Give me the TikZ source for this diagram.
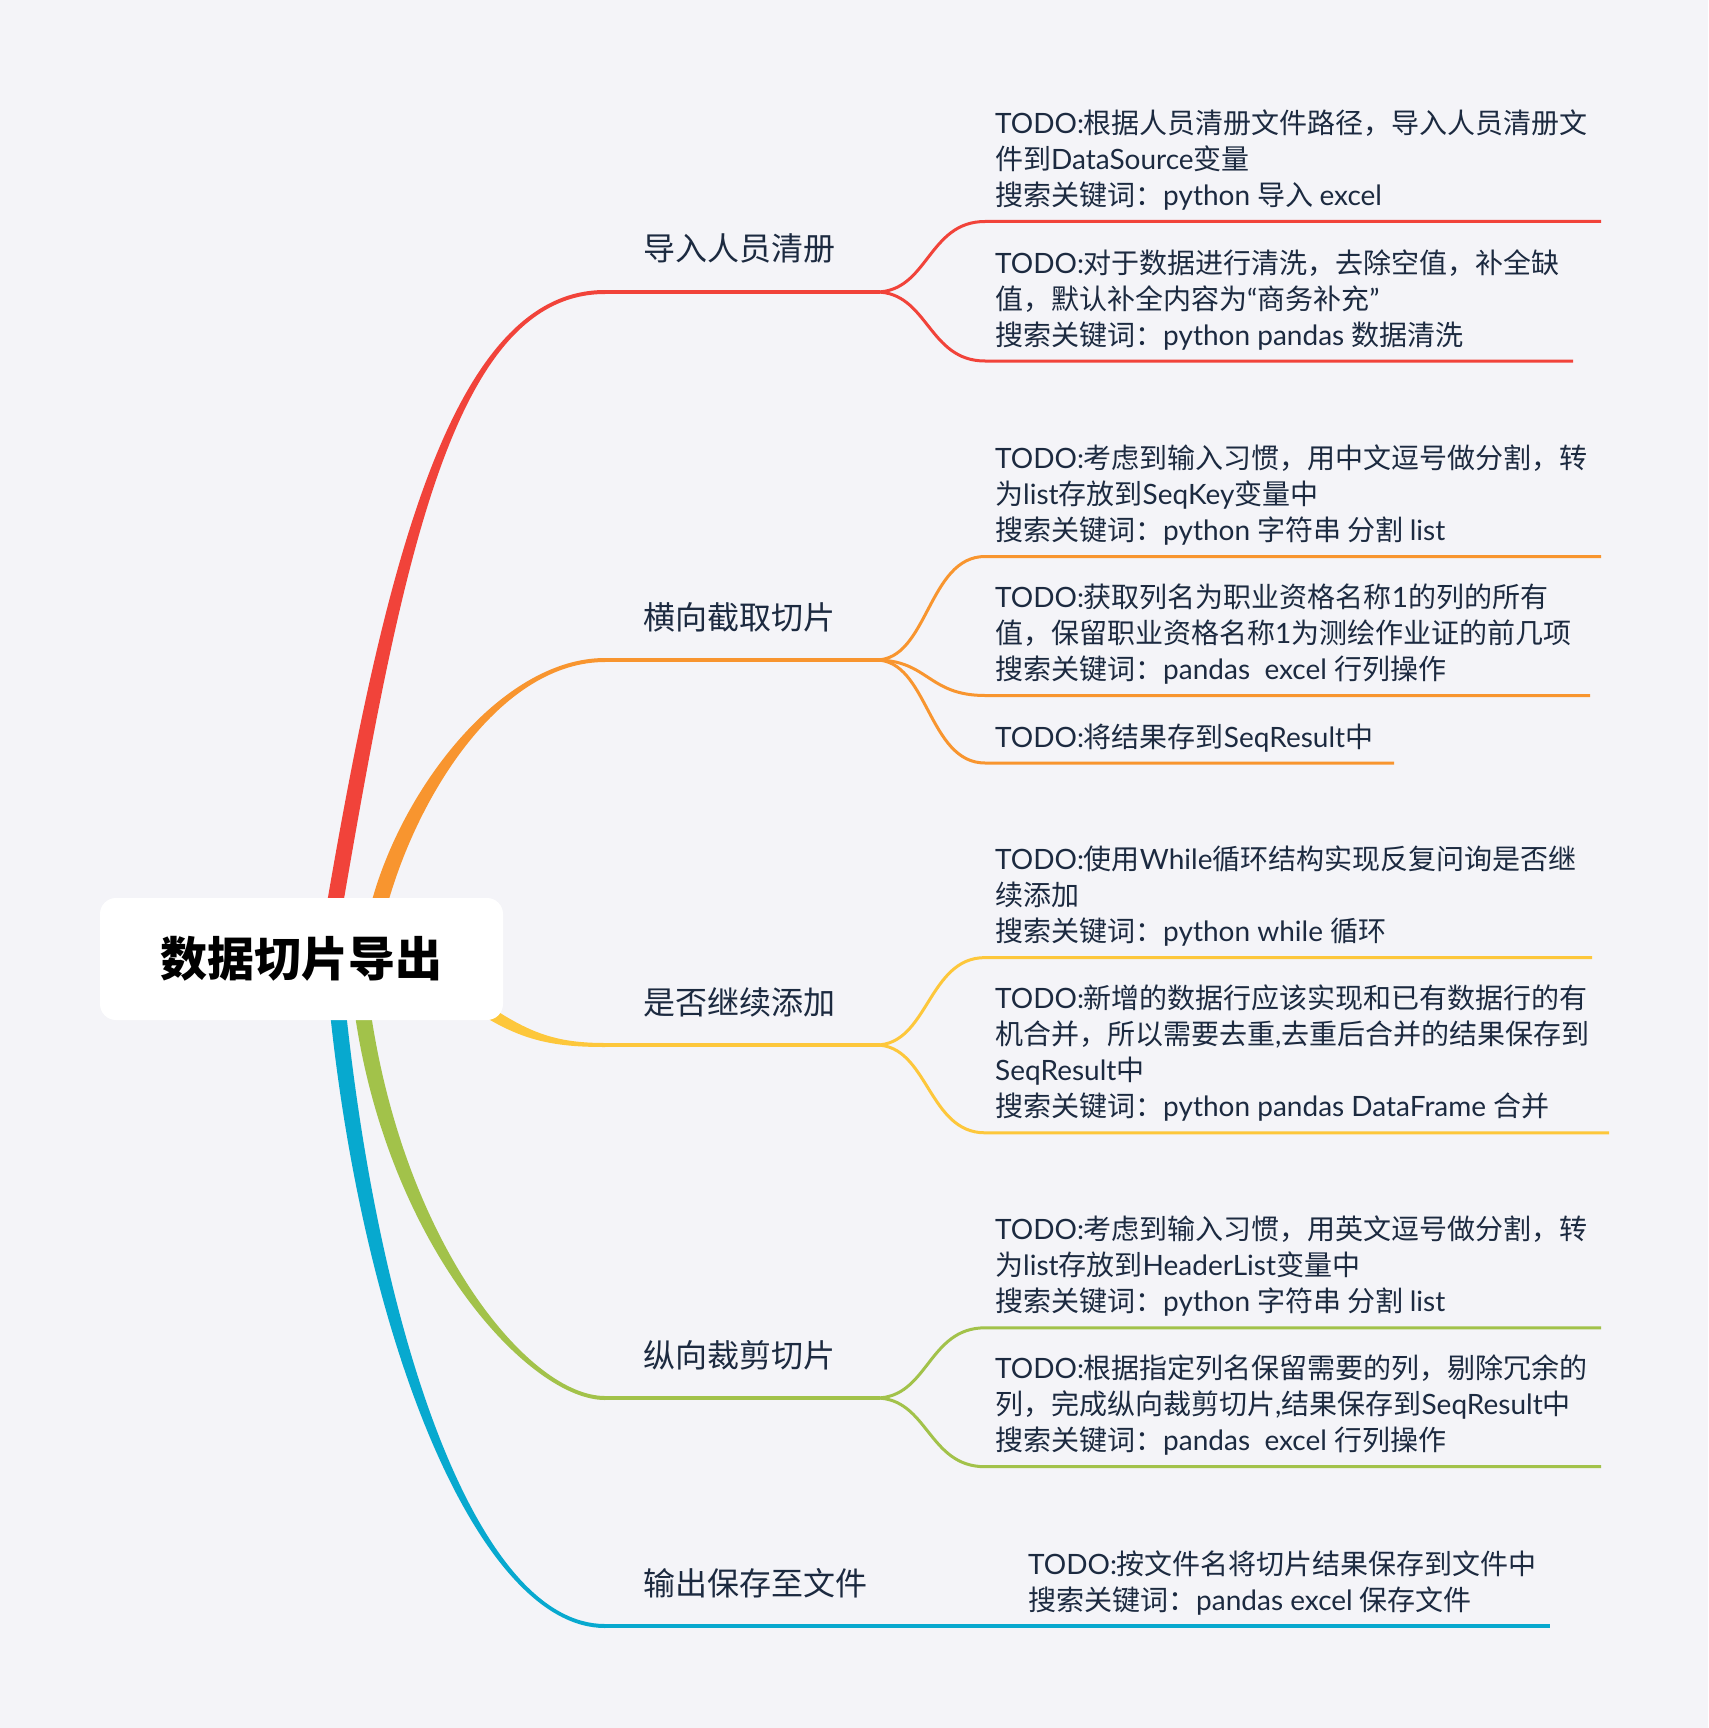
\documentclass[tikz,border=0pt]{standalone}
\usepackage{fontspec}
\setmainfont{Lato}
\newfontfamily\latfont{Lato}
\newfontfamily\cjkfont{Noto Sans CJK SC}
\XeTeXinterchartokenstate=1
\newXeTeXintercharclass\cjkclass
\makeatletter
\def\setcjkrange#1#2{\count@=#1\relax\loop\XeTeXcharclass\count@=\cjkclass\relax\ifnum\count@<#2\relax\advance\count@ 1\relax\repeat}
\makeatother
\setcjkrange{"3000}{"303F}
\setcjkrange{"4E00}{"9FFF}
\setcjkrange{"FF00}{"FFEF}
\XeTeXinterchartoks 0 \cjkclass = {\cjkfont}
\XeTeXinterchartoks 4095 \cjkclass = {\cjkfont}
\XeTeXinterchartoks \cjkclass 0 = {\latfont}
\XeTeXinterchartoks 4095 0 = {\latfont}
\definecolor{bg}{HTML}{F4F4F8}
\definecolor{cred}{HTML}{F1433A}
\definecolor{corange}{HTML}{F8952F}
\definecolor{cyellow}{HTML}{FDC73B}
\definecolor{cgreen}{HTML}{A2C24A}
\definecolor{cblue}{HTML}{07A9CF}
\definecolor{txt}{HTML}{1C2A40}
\tikzset{
  mainline/.style={line width=4pt, line cap=butt},
  subline/.style={line width=3pt, line cap=butt},
  lbl/.style={font=\fontsize{32}{40}\selectfont, text=txt, inner sep=0pt, anchor=base west},
  note/.style={font=\fontsize{28}{36}\selectfont, text=txt, inner sep=0pt, anchor=base west, align=left},
}
\begin{document}
\begin{tikzpicture}[x=1pt,y=-1pt]
\fill[bg] (0,0) rectangle (1708,1728);
\useasboundingbox (0,0) rectangle (1708,1728);

% ---------- tapered main branches ----------
\fill[cred] (321.3,936) -- (328.1,896.6) .. controls (387.6,551.6) and (455,290) .. (605,290) -- (605,294) .. controls (455,294) and (403.4,554.4) .. (343.9,899.4) -- (337.1,938.8) -- cycle;
\fill[corange] (362.1,934.2) -- (373.3,895.8) .. controls (406.9,780.8) and (505,658) .. (605,658) -- (605,662) .. controls (505,662) and (422.3,785.2) .. (388.7,900.2) -- (377.5,938.6) -- cycle;
\fill[cyellow] (473.4,995.1) .. controls (523.4,1030.1) and (550,1043) .. (605,1043) -- (605,1047) .. controls (550,1047) and (516.6,1039.9) .. (466.6,1004.9) -- cycle;
\fill[cgreen] (365.7,980.3) -- (371.9,1019.8) .. controls (407.9,1248.8) and (530,1396) .. (605,1396) -- (605,1400) .. controls (530,1400) and (392.1,1251.2) .. (356.1,1022.2) -- (349.9,982.7) -- cycle;
\fill[cblue] (342.5,980.4) -- (346.95,1020.1) .. controls (382.95,1349.1) and (480,1624) .. (605,1624) -- (605,1628) .. controls (480,1628) and (367.05,1350.9) .. (331.05,1021.9) -- (326.7,982.1) -- cycle;

% ---------- coordinates ----------
\coordinate (a1) at (605,292);  \coordinate (e1) at (880,292);
\coordinate (a2) at (605,660);  \coordinate (e2) at (880,660);
\coordinate (a3) at (605,1045); \coordinate (e3) at (880,1045);
\coordinate (a4) at (605,1398); \coordinate (e4) at (880,1398);
\coordinate (a5) at (605,1626); \coordinate (e5) at (1550,1626);

\coordinate (r1s) at (985,221.5); \coordinate (r1e) at (1601,221.5);
\coordinate (r2s) at (985,361);   \coordinate (r2e) at (1573,361);
\coordinate (o1s) at (985,556.5); \coordinate (o1e) at (1601,556.5);
\coordinate (o2s) at (985,695.5); \coordinate (o2e) at (1590,695.5);
\coordinate (o3s) at (985,763);   \coordinate (o3e) at (1394,763);
\coordinate (y1s) at (985,957.6); \coordinate (y1e) at (1592,957.6);
\coordinate (y2s) at (985,1132.8);\coordinate (y2e) at (1609,1132.8);
\coordinate (g1s) at (985,1327.8);\coordinate (g1e) at (1601,1327.8);
\coordinate (g2s) at (985,1466.7);\coordinate (g2e) at (1601,1466.7);

% ---------- main horizontal lines ----------
\draw[mainline, cred] (a1) -- (e1);
\draw[mainline, corange] (a2) -- (e2);
\draw[mainline, cyellow] (a3) -- (e3);
\draw[mainline, cgreen] (a4) -- (e4);
\draw[mainline, cblue] (a5) -- (e5);

% ---------- sub branches ----------
\draw[subline, cred] (876,292) .. controls (928,292) and (928,221.5) .. (r1s) -- (r1e);
\draw[subline, cred] (876,292) .. controls (928,292) and (928,361) .. (r2s) -- (r2e);
\draw[subline, corange] (876,660) .. controls (928,660) and (928,556.5) .. (o1s) -- (o1e);
\draw[subline, corange] (876,660) .. controls (928,660) and (928,695.5) .. (o2s) -- (o2e);
\draw[subline, corange] (876,660) .. controls (928,660) and (928,763) .. (o3s) -- (o3e);
\draw[subline, cyellow] (876,1045) .. controls (928,1045) and (928,957.6) .. (y1s) -- (y1e);
\draw[subline, cyellow] (876,1045) .. controls (928,1045) and (928,1132.8) .. (y2s) -- (y2e);
\draw[subline, cgreen] (876,1398) .. controls (928,1398) and (928,1327.8) .. (g1s) -- (g1e);
\draw[subline, cgreen] (876,1398) .. controls (928,1398) and (928,1466.7) .. (g2s) -- (g2e);

% ---------- root ----------
\node[fill=white, rounded corners=16pt, minimum width=403pt, minimum height=122pt, inner sep=0pt,
      font=\fontsize{47}{56}\selectfont\bfseries, text=black] (root) at (301.5,959) {数据切片导出};

% ---------- main labels ----------
\node[lbl] (b1) at (643,261) {导入人员清册};
\node[lbl] (b2) at (643,629) {横向截取切片};
\node[lbl] (b3) at (643,1014) {是否继续添加};
\node[lbl] (b4) at (643,1367) {纵向裁剪切片};
\node[lbl] (b5) at (643,1595) {输出保存至文件};

% ---------- notes (anchor = baseline of last line) ----------
\node[note] (n11) at (995,205.5) {TODO:根据人员清册文件路径，导入人员清册文\\件到DataSource变量\\搜索关键词：python 导入 excel};
\node[note] (n12) at (995,345) {TODO:对于数据进行清洗，去除空值，补全缺\\值，默认补全内容为“商务补充”\\搜索关键词：python pandas 数据清洗};
\node[note] (n21) at (995,540.5) {TODO:考虑到输入习惯，用中文逗号做分割，转\\为list存放到SeqKey变量中\\搜索关键词：python 字符串 分割 list};
\node[note] (n22) at (995,679.5) {TODO:获取列名为职业资格名称1的列的所有\\值，保留职业资格名称1为测绘作业证的前几项\\搜索关键词：pandas~\ excel 行列操作};
\node[note] (n23) at (995,747) {TODO:将结果存到SeqResult中};
\node[note] (n31) at (995,941.6) {TODO:使用While循环结构实现反复问询是否继\\续添加\\搜索关键词：python while 循环};
\node[note] (n32) at (995,1116.8) {TODO:新增的数据行应该实现和已有数据行的有\\机合并，所以需要去重,去重后合并的结果保存到\\SeqResult中\\搜索关键词：python pandas DataFrame 合并};
\node[note] (n41) at (995,1311.8) {TODO:考虑到输入习惯，用英文逗号做分割，转\\为list存放到HeaderList变量中\\搜索关键词：python 字符串 分割 list};
\node[note] (n42) at (995,1450.7) {TODO:根据指定列名保留需要的列，剔除冗余的\\列，完成纵向裁剪切片,结果保存到SeqResult中\\搜索关键词：pandas~\ excel 行列操作};
\node[note] (n51) at (1028,1610) {TODO:按文件名将切片结果保存到文件中\\搜索关键词：pandas excel 保存文件};
\end{tikzpicture}
\end{document}
